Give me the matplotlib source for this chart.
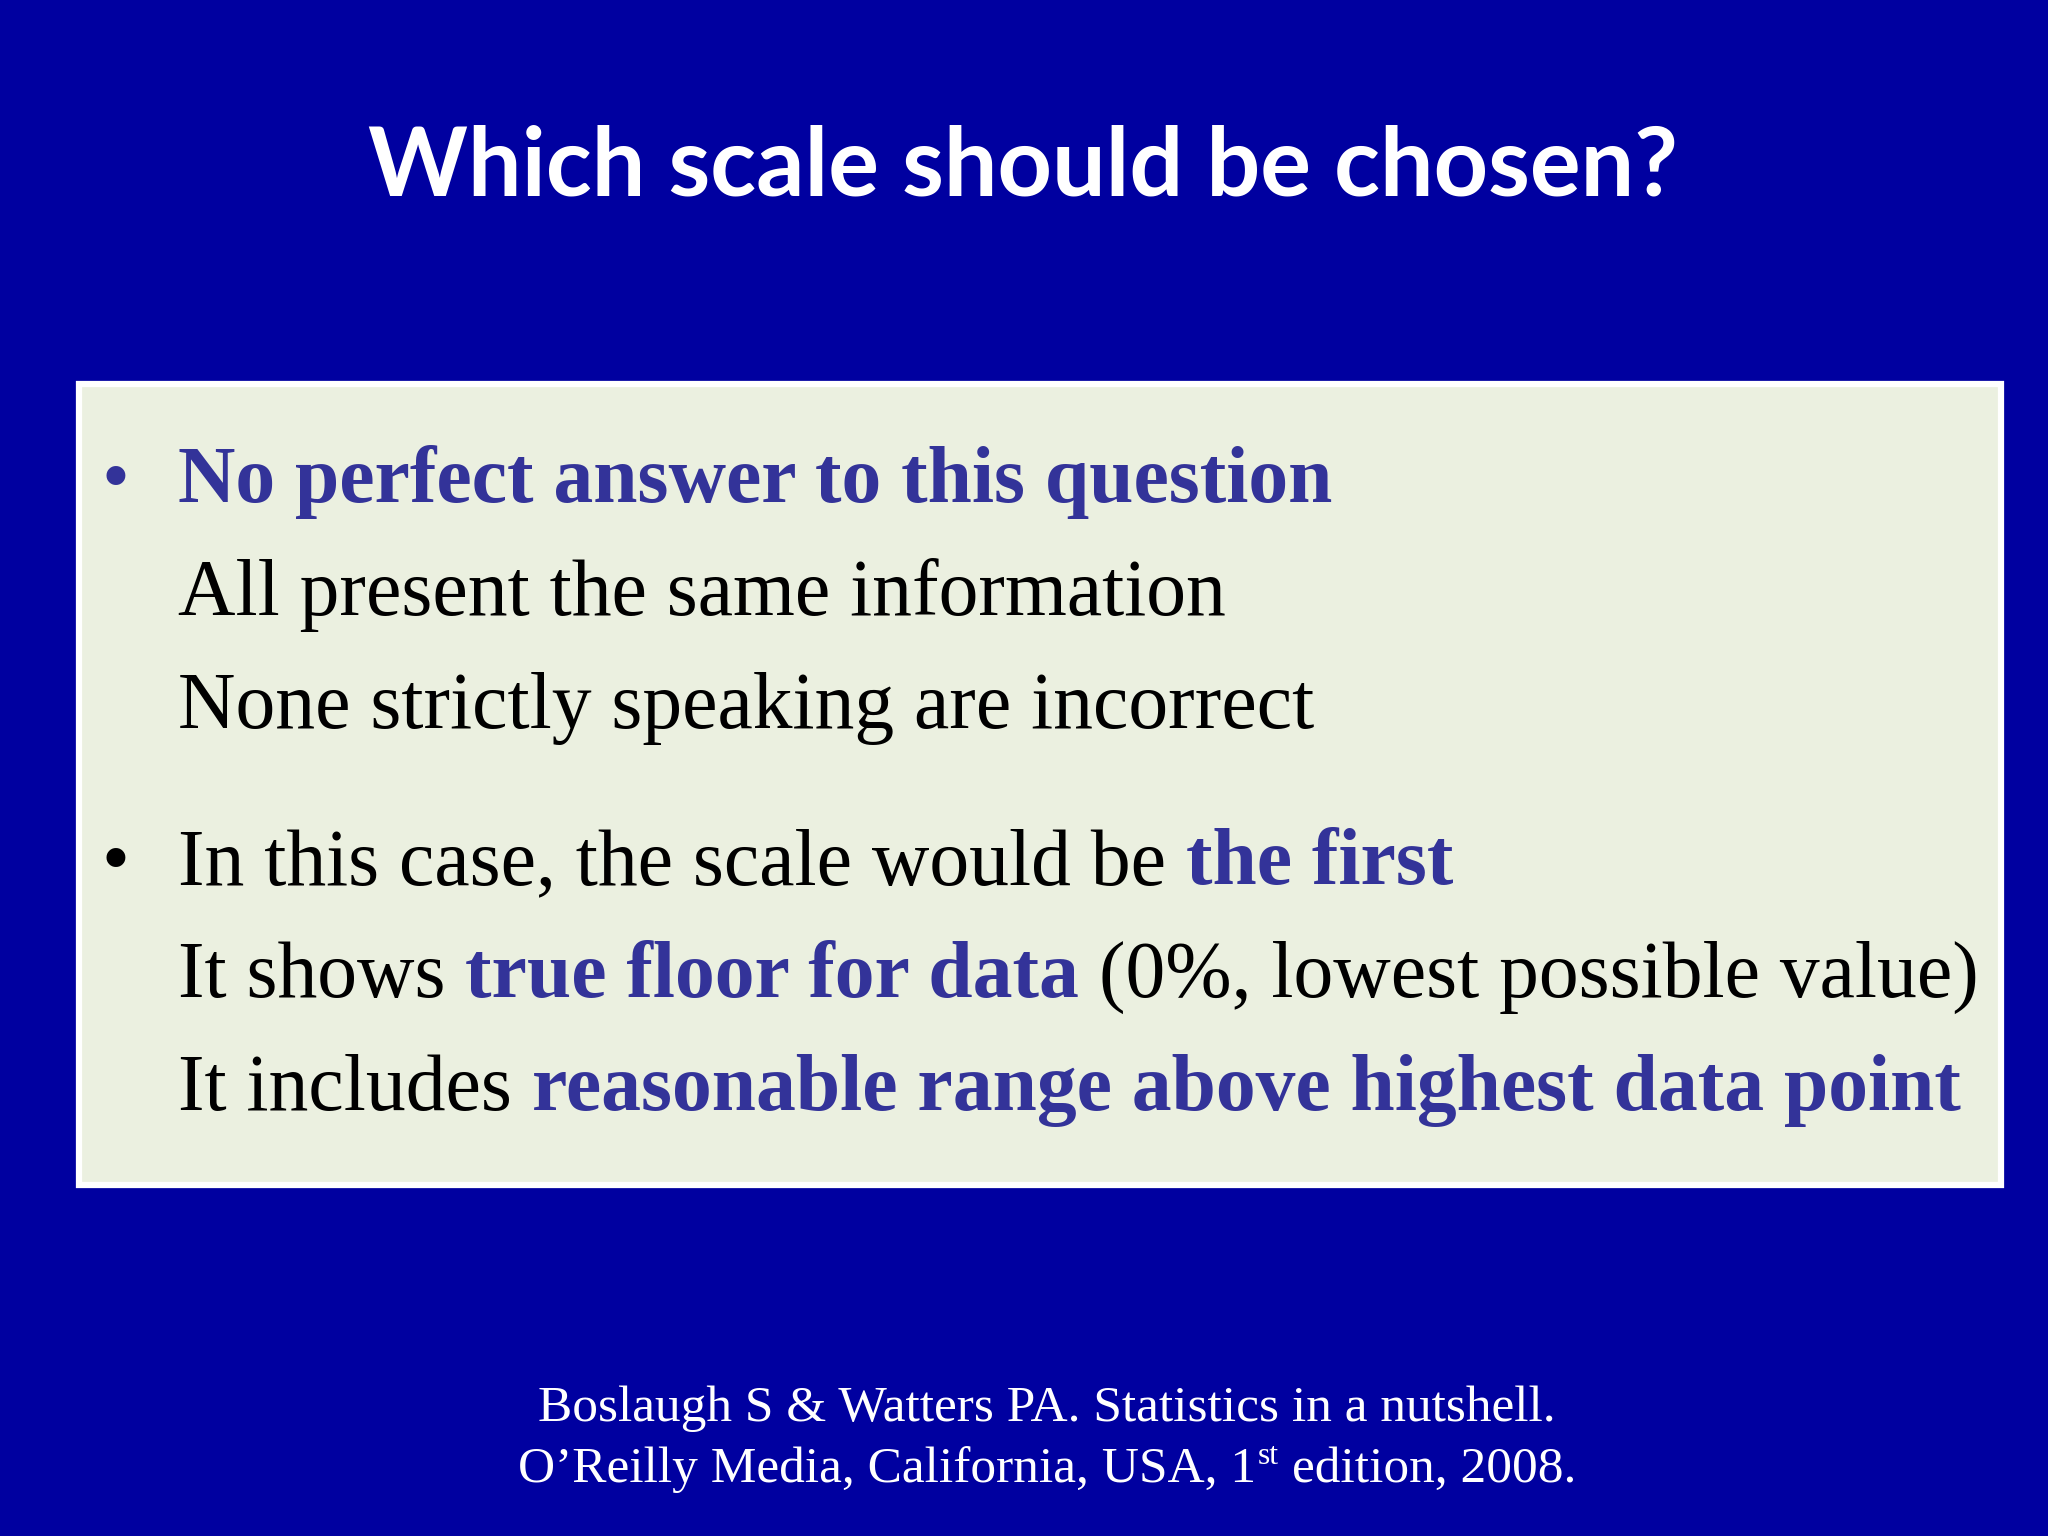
import matplotlib
matplotlib.use("Agg")
import matplotlib.pyplot as plt
from matplotlib.patches import Rectangle

# ---- content ----
TITLE = "Which scale should be chosen?"
LINE1 = [("No perfect answer to this question", "hl")]
LINE2 = [("All present the same information", "n")]
LINE3 = [("None strictly speaking are incorrect", "n")]
LINE4 = [("In this case, the scale would be", "n"), ("the first", "hl")]
LINE5 = [("It shows", "n"), ("true floor for data", "hl"), ("(0%, lowest possible value)", "n")]
LINE6 = [("It includes", "n"), ("reasonable range above highest data point", "hl")]
BODY_LINES = [LINE1, LINE2, LINE3, LINE4, LINE5, LINE6]
BULLETS = {0: "hl", 3: "n"}
CITE1 = [("Boslaugh S & Watters PA. Statistics in a nutshell.", "c")]
CITE2 = [("O\u2019Reilly Media, California, USA, 1", "c"), ("st", "sup"), ("edition, 2008.", "c")]
CITE_LINES = [CITE1, CITE2]

# ---- style ----
BG = "#0000A0"
BOX_FILL = "#EBF0E0"
HL = "#333399"
W, H = 2048, 1536
SERIF = "Liberation Serif"
BODY_SIZE = 57.3
CITE_SIZE = 37

fig = plt.figure(figsize=(W / 100, H / 100), dpi=100, facecolor=BG)
ax = fig.add_axes([0, 0, 1, 1])
ax.set_xlim(0, W)
ax.set_ylim(H, 0)
ax.axis("off")
ax.set_facecolor(BG)

ax.add_patch(Rectangle((79, 384), 1922, 801, facecolor=BOX_FILL,
                       edgecolor="white", linewidth=4.5, zorder=1))

ax.text(1023, 196, TITLE, ha="center", va="baseline", color="white",
        fontsize=68.5, fontweight="bold", family="Lato", zorder=3)


def style(kind, size):
    if kind == "hl":
        return dict(color=HL, fontweight="bold", fontsize=size, family=SERIF)
    if kind == "n":
        return dict(color="black", fontsize=size, family=SERIF)
    if kind == "c":
        return dict(color="white", fontsize=size, family=SERIF)
    if kind == "sup":
        return dict(color="white", fontsize=size * 0.62, family=SERIF)


def draw_line(x, y, segs, size):
    arts = []
    prev = None
    prev_kind = None
    space = 0.25 * size * 100 / 72
    for text, kind in segs:
        kw = style(kind, size)
        dy = -0.36 * size * 100 / 72 if kind == "sup" else 0
        if prev is None:
            t = ax.text(x, y, text, ha="left", va="baseline", zorder=3, **kw)
        else:
            gap = 2 if kind == "sup" else space
            t = ax.annotate(text, xy=(1, y + dy), xycoords=(prev, "data"),
                            xytext=(gap, 0), textcoords="offset pixels",
                            ha="left", va="baseline", zorder=3, **kw)
        arts.append(t)
        prev = t
        prev_kind = kind
    return arts


BODY_X = 178
BODY_Y = [502, 615, 728, 884, 997, 1110]
for i, segs in enumerate(BODY_LINES):
    draw_line(BODY_X, BODY_Y[i], segs, BODY_SIZE)
    if i in BULLETS:
        kw = style(BULLETS[i], BODY_SIZE)
        kw["fontweight"] = "normal"
        ax.text(115, BODY_Y[i], "\u2022", ha="center", va="baseline", zorder=3, **kw)

CITE_Y = [1421, 1482]
cite_arts = [draw_line(0, CITE_Y[i], segs, CITE_SIZE) for i, segs in enumerate(CITE_LINES)]
fig.canvas.draw()
r = fig.canvas.get_renderer()
for arts in cite_arts:
    x0 = arts[0].get_window_extent(r).x0
    x1 = arts[-1].get_window_extent(r).x1
    width = x1 - x0
    arts[0].set_x(1047 - width / 2)

fig.savefig("out.png", dpi=100, facecolor=BG)
